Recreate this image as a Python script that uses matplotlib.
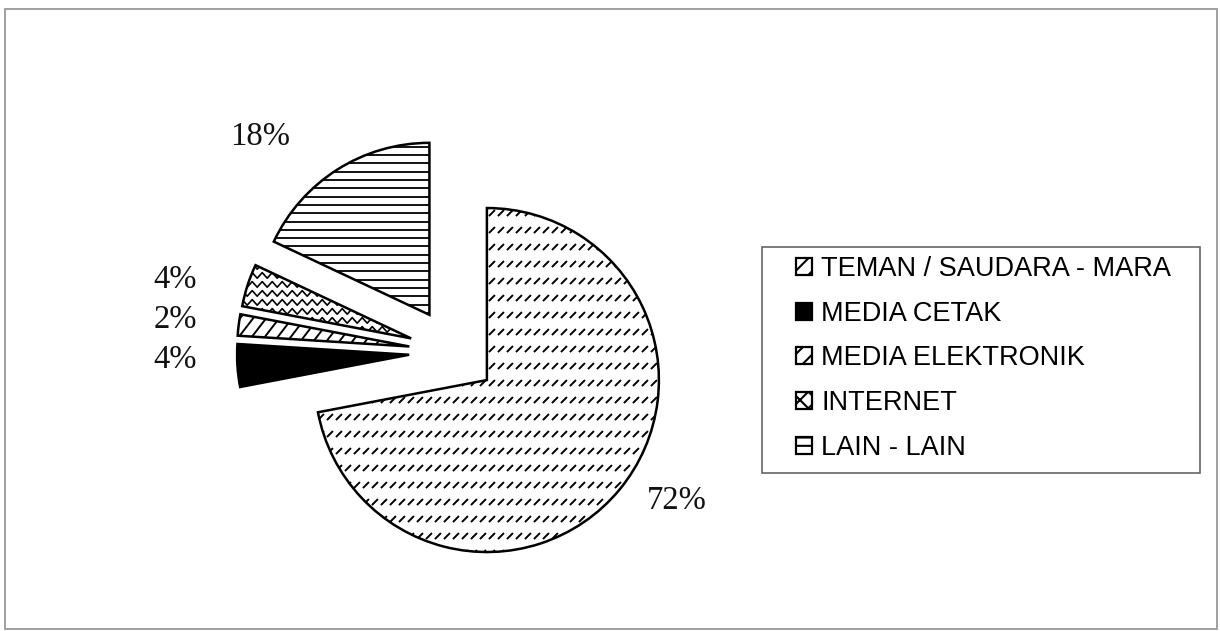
import numpy as np
import matplotlib
matplotlib.use("Agg")
import matplotlib.pyplot as plt
from matplotlib.collections import LineCollection
from matplotlib.patches import Rectangle

# data
categories = ["TEMAN / SAUDARA - MARA", "MEDIA CETAK", "MEDIA ELEKTRONIK",
              "INTERNET", "LAIN - LAIN"]
values = [72, 4, 2, 4, 18]
pct_labels = ["72%", "4%", "2%", "4%", "18%"]

W, H = 1220, 631

# layout (pixel coords, y measured from top)
PIE_CENTER = (453, 352)
PIE_RADIUS = 172
EXPLODE = 44          # pie() takes explode in data units, here pixels
LABEL_XY = [(647, 509), (197, 368), (197, 328), (197, 288), (230, 145)]
LABEL_HA = ["left", "right", "right", "right", "left"]

plt.rcParams["hatch.linewidth"] = 1.5

fig = plt.figure(figsize=(W / 100, H / 100), dpi=100)
ax = fig.add_axes([0, 0, 1, 1])

wedges, _ = ax.pie(values, explode=[EXPLODE] * len(values), startangle=90,
                   counterclock=False,
                   center=(PIE_CENTER[0], H - PIE_CENTER[1]),
                   radius=PIE_RADIUS,
                   colors=["white", "black", "white", "white", "white"],
                   wedgeprops=dict(edgecolor="black", linewidth=1.8))
ax.set_xlim(0, W)
ax.set_ylim(0, H)
ax.axis("off")


def texture(wedge, segs, lw=1.1):
    lc = LineCollection(segs, colors="black", linewidths=lw,
                        zorder=wedge.get_zorder() + 0.1)
    ax.add_collection(lc)
    lc.set_clip_path(wedge)


def bbox_of(wedge):
    return wedge.get_path().get_extents()


def dashes(wedge, row_gap=17, step=9, size=6):
    bb = bbox_of(wedge)
    segs = []
    for y in np.arange(bb.y1 - 8, bb.y0 - row_gap, -row_gap):
        for x in np.arange(bb.x0, bb.x1, step):
            segs.append([(x, y), (x + size, y + size)])
    texture(wedge, segs, lw=1.4)


def zigzag(wedge, row_gap=9, period=10, amp=2.8):
    bb = bbox_of(wedge)
    segs = []
    xs = np.arange(bb.x0 - period, bb.x1 + period, period / 2)
    for y in np.arange(bb.y0, bb.y1 + row_gap, row_gap):
        ys = y + np.where(np.arange(len(xs)) % 2 == 0, amp, -amp)
        segs.append(np.column_stack([xs, ys]))
    texture(wedge, segs, lw=1.2)


def diagonals(wedge, gap=13, slope=1.3):
    bb = bbox_of(wedge)
    h = bb.height
    segs = []
    for x in np.arange(bb.x0 - h, bb.x1 + gap, gap):
        segs.append([(x, bb.y0), (x + h / slope, bb.y1)])
    texture(wedge, segs, lw=1.4)


def horizontals(wedge, gap=8.3):
    bb = bbox_of(wedge)
    segs = [[(bb.x0, y), (bb.x1, y)] for y in np.arange(bb.y1 - 4, bb.y0, -gap)]
    texture(wedge, segs, lw=1.3)


dashes(wedges[0])
diagonals(wedges[2])
zigzag(wedges[3])
horizontals(wedges[4])

for txt, (x, y), ha in zip(pct_labels, LABEL_XY, LABEL_HA):
    ax.text(x, H - y, txt, ha=ha, va="baseline", fontsize=23.5,
            family="Liberation Serif", color="#111111")

# legend
hatches = ["//", None, "//", "xx", "--"]
faces = ["white", "black", "white", "white", "white"]
handles = [Rectangle((0, 0), 1, 1, facecolor=f, edgecolor="black",
                     linewidth=1.6, hatch=h) for f, h in zip(faces, hatches)]
leg = ax.legend(handles, categories, loc="upper left", frameon=False,
                bbox_to_anchor=(796 / W, 1 - 256 / H), bbox_transform=fig.transFigure,
                prop=dict(family="Liberation Sans", size=19.5),
                handlelength=0.6, handleheight=0.6, handletextpad=0.33,
                labelspacing=0.69, borderpad=0, borderaxespad=0)

fig.add_artist(Rectangle((762 / W, 1 - 473 / H), (1200 - 762) / W, (473 - 247) / H,
                         transform=fig.transFigure, fill=False,
                         edgecolor="#666666", linewidth=1.2))
fig.add_artist(Rectangle((5 / W, 1 - 629 / H), (1217 - 5) / W, (629 - 9) / H,
                         transform=fig.transFigure, fill=False,
                         edgecolor="#999999", linewidth=1.3))

fig.savefig("out.png", dpi=100)
